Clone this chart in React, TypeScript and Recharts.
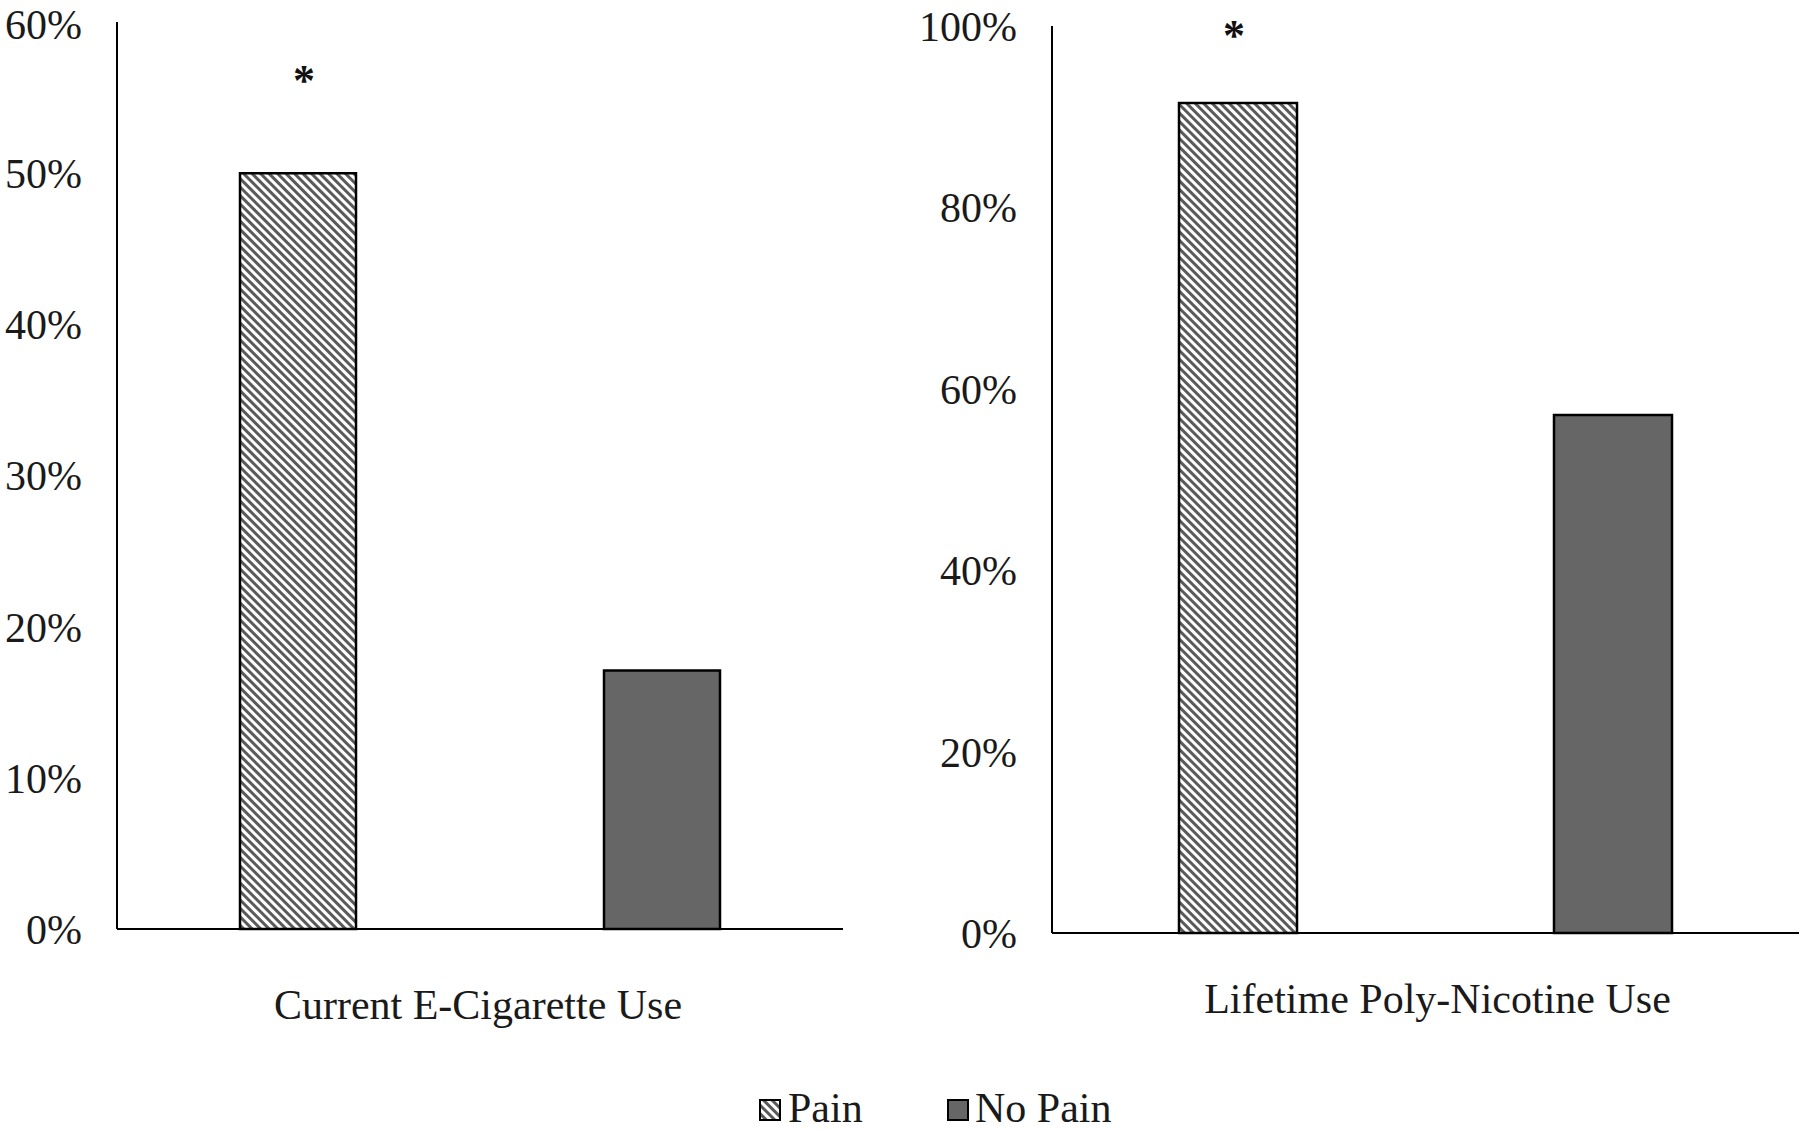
import { BarChart, Bar, XAxis, YAxis, LabelList } from "recharts";

// Data
const categories = ["Current E-Cigarette Use", "Lifetime Poly-Nicotine Use"];
const painValues = [0.5, 0.915];
const noPainValues = [0.171, 0.571];
const significance = ["*", "*"];
const leftTicks = [0, 0.1, 0.2, 0.3, 0.4, 0.5, 0.6];
const rightTicks = [0, 0.2, 0.4, 0.6, 0.8, 1];
const seriesNames = ["Pain", "No Pain"];

const FONT = "'Liberation Serif', 'Times New Roman', serif";
const TEXT = "#1a1a1a";
const GREY = "#666666";

const pct = (v: number) => `${Math.round(v * 100)}%`;

function Hatch({ id }: { id: string }) {
  return (
    <defs>
      <pattern id={id} width={6} height={6} patternUnits="userSpaceOnUse" patternTransform="rotate(-45)">
        <rect width={6} height={6} fill="#ffffff" />
        <rect x={0} y={0} width={3} height={6} fill="#5a5a5a" />
      </pattern>
    </defs>
  );
}

function Star(props: any) {
  const { x, y, width, value, lift, shift } = props;
  return (
    <text
      x={x + width / 2 + shift}
      y={y - lift}
      textAnchor="middle"
      fontFamily={FONT}
      fontSize={44}
      fontWeight="bold"
      fill="#111"
    >
      {value}
    </text>
  );
}

type PanelProps = {
  idx: number;
  left: number;
  width: number;
  top: number;
  axisWidth: number;
  right: number;
  domainMax: number;
  ticks: number[];
  barSize: number;
  barGap: number;
  labelGap: number;
  labelShift: number;
  starLift: number;
  starShift: number;
};

function Panel(p: PanelProps) {
  const data = [
    { name: categories[p.idx], pain: painValues[p.idx], noPain: noPainValues[p.idx], sig: significance[p.idx] },
  ];
  const hatchId = `hatch-${p.idx}`;
  return (
    <div style={{ position: "absolute", left: p.left, top: 0 }}>
      <BarChart
        width={p.width}
        height={1060}
        data={data}
        margin={{ top: p.top, right: p.right, left: 0, bottom: 0 }}
        barSize={p.barSize}
        barGap={p.barGap}
      >
        <Hatch id={hatchId} />
        <XAxis
          dataKey="name"
          height={1060 - p.top - 907}
          axisLine={{ stroke: "#000", strokeWidth: 2 }}
          tickLine={false}
          tickSize={0}
          tickMargin={p.labelGap}
          tick={{ fill: TEXT, fontSize: 42, fontFamily: FONT, dx: p.labelShift }}
        />
        <YAxis
          width={p.axisWidth}
          domain={[0, p.domainMax]}
          ticks={p.ticks}
          tickFormatter={pct}
          axisLine={{ stroke: "#000", strokeWidth: 2 }}
          tickLine={false}
          tickSize={0}
          tickMargin={35}
          tick={{ fill: TEXT, fontSize: 42, fontFamily: FONT }}
        />
        <Bar dataKey="pain" fill={`url(#${hatchId})`} stroke="#000" strokeWidth={2.5} isAnimationActive={false}>
          <LabelList
            dataKey="sig"
            content={(lp: any) => <Star {...lp} lift={p.starLift} shift={p.starShift} />}
          />
        </Bar>
        <Bar dataKey="noPain" fill={GREY} stroke="#000" strokeWidth={2.5} isAnimationActive={false} />
      </BarChart>
    </div>
  );
}

function Legend() {
  return (
    <svg width={1806} height={70} style={{ position: "absolute", left: 0, top: 1060 }}>
      <Hatch id="hatch-legend" />
      <rect x={760} y={40} width={20} height={20} fill="url(#hatch-legend)" stroke="#000" strokeWidth={2} />
      <text x={788} y={62} fontFamily={FONT} fontSize={42} fill={TEXT}>
        {seriesNames[0]}
      </text>
      <rect x={948} y={40} width={20} height={20} fill={GREY} stroke="#000" strokeWidth={2} />
      <text x={975} y={62} fontFamily={FONT} fontSize={42} fill={TEXT}>
        {seriesNames[1]}
      </text>
    </svg>
  );
}

export default function App() {
  return (
    <div style={{ position: "absolute", left: 0, top: 0, width: 1806, height: 1130, background: "#fff", overflow: "hidden" }}>
      <Panel
        idx={0}
        left={0}
        width={870}
        top={22}
        axisWidth={117}
        right={27}
        domainMax={0.6}
        ticks={leftTicks}
        barSize={116}
        barGap={248}
        labelGap={60}
        labelShift={-2}
        starLift={78}
        starShift={6}
      />
      <Panel
        idx={1}
        left={920}
        width={886}
        top={26}
        axisWidth={132}
        right={7}
        domainMax={1}
        ticks={rightTicks}
        barSize={118}
        barGap={257}
        labelGap={50}
        labelShift={12}
        starLift={53}
        starShift={-4}
      />
      <Legend />
    </div>
  );
}
